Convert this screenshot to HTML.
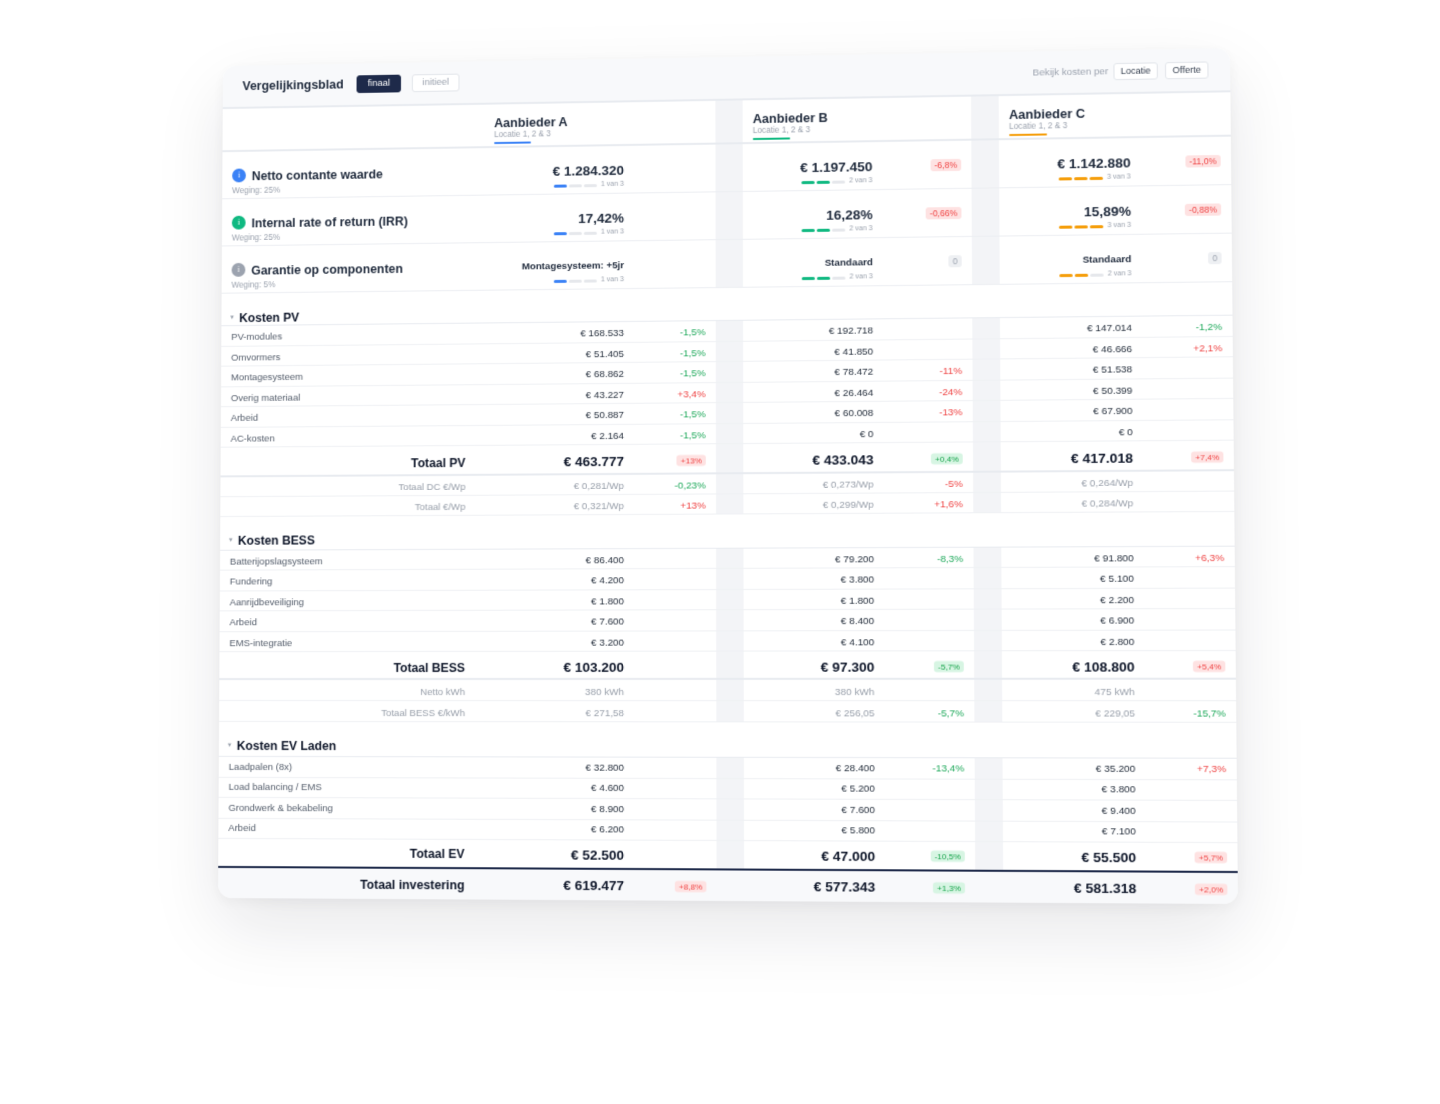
<!DOCTYPE html>
<html><head><meta charset="utf-8">
<style>
html,body{margin:0;padding:0;background:#fff;width:1440px;height:1104px;overflow:hidden;}
body{font-family:"Liberation Sans",Arial,sans-serif;color:#1e293b;}
#card{position:absolute;left:0;top:0;width:1000px;height:840px;background:#fff;border-radius:14px;overflow:hidden;
transform-origin:0 0;
transform:matrix3d(0.972622,-0.0193416,0,-0.00002795,-0.0092031,0.977085,0,-0.000014912,0,0,1,0,223,66,0,1);
box-shadow:0 28px 70px rgba(15,23,42,0.10),0 4px 16px rgba(15,23,42,0.05);}
.ab{position:absolute;white-space:nowrap;}
.hdr{position:absolute;left:0;top:0;width:1000px;height:44px;background:#f8f9fb;border-bottom:2px solid #e8ebf0;box-sizing:border-box;}
.strip{position:absolute;width:27px;background:#f3f4f7;}
.rw{position:absolute;left:0;width:1000px;box-sizing:border-box;border-bottom:1px solid #eff1f4;}
.rw .c{position:absolute;top:2px;white-space:nowrap;}
.rw.e .c{top:0.5px;}
.rw .bd{margin-top:1.5px;}
.rw.e .bd{margin-top:0.5px;}
.L{left:10px;}
.TL{right:753px;}
.VA{right:595px;}.PA{right:514px;}
.VB{right:349px;}.PB{right:262px;}
.VC{right:97px;}.PC{right:10px;}
.it{font-size:9.6px;color:#555e6c;}
.iv{font-size:9.8px;color:#1f2937;}
.ip{font-size:9.8px;}
.g{color:#1fa95b;}.r{color:#ef4444;}
.sl{font-size:9.6px;color:#99a0ab;}
.sv{font-size:9.8px;color:#99a0ab;}
.tl{font-size:12.2px;font-weight:bold;color:#0f172a;}
.tv{font-size:13.5px;font-weight:bold;color:#0f172a;}
.bd{position:absolute;top:50%;transform:translateY(-50%);font-size:8px;line-height:11px;padding:0 4px;border-radius:3px;white-space:nowrap;}
.rd{background:#fee2e2;color:#ef4444;}
.gn{background:#d7f5e3;color:#16a34a;}
.gy{background:#eef0f3;color:#9ca3af;}
.sec{position:absolute;left:0;width:1000px;box-sizing:border-box;border-bottom:1px solid #e8ebf0;background:#fff;}
.sec .t{position:absolute;left:18px;font-size:12.2px;font-weight:bold;color:#0f172a;white-space:nowrap;line-height:16px;}
.sec .cr{position:absolute;left:9px;font-size:7px;color:#9ca3af;line-height:16px;}
.btn{position:absolute;top:12px;height:18px;box-sizing:border-box;border-radius:3px;font-size:9.5px;line-height:16px;text-align:center;}
.ic{position:absolute;left:10px;width:14px;height:14px;border-radius:50%;color:#fff;font-size:8px;line-height:14px;text-align:center;font-family:"Liberation Serif",serif;}
.mt{position:absolute;left:30px;font-size:12.4px;font-weight:bold;color:#1e293b;line-height:16px;white-space:nowrap;}
.wg{position:absolute;left:10px;font-size:8.3px;color:#9ca3af;line-height:10px;white-space:nowrap;}
.mv{position:absolute;font-size:13.5px;font-weight:bold;color:#1e293b;line-height:16px;white-space:nowrap;}
.ms{position:absolute;font-size:9.7px;font-weight:bold;color:#1e293b;line-height:16px;white-space:nowrap;}
.bars{position:absolute;display:flex;align-items:center;height:10px;}
.bars i{display:block;width:12.5px;height:3px;border-radius:2px;background:#e6e8ec;margin-right:2.5px;}
.bars i.A{background:#3b82f6;}.bars i.B{background:#10b981;}.bars i.C{background:#f59e0b;}
.bars span{font-size:7px;color:#9ca3af;margin-left:2px;line-height:10px;}
.mb{position:absolute;font-size:8.5px;line-height:12px;padding:0 4px;border-radius:3px;white-space:nowrap;}
.ch{position:absolute;font-size:12.6px;font-weight:bold;color:#1e293b;line-height:16px;white-space:nowrap;}
.cs{position:absolute;font-size:8.2px;color:#9ca3af;line-height:10px;white-space:nowrap;}
.ul{position:absolute;height:2px;width:37px;border-radius:1px;}
</style></head><body>
<div id="card">
  <div class="hdr"></div>
  <div class="ab" style="left:20px;top:13px;font-size:12.5px;font-weight:bold;color:#1e293b;line-height:16px;">Vergelijkingsblad</div>
  <div class="btn" style="left:136px;width:45px;background:#1e2a4a;color:#fff;border:1px solid #1e2a4a;">finaal</div>
  <div class="btn" style="left:192px;width:48px;background:#fff;color:#9ca3af;border:1px solid #e2e5ea;">initieel</div>
  <div class="ab" style="right:118px;top:13.5px;font-size:9.7px;color:#9ca3af;line-height:16px;">Bekijk kosten per</div>
  <div class="btn" style="left:887px;width:43px;top:12.5px;height:17px;background:#fff;color:#374151;border:1px solid #e2e5ea;font-size:9px;line-height:15px;">Locatie</div>
  <div class="btn" style="left:937px;width:42px;top:12.5px;height:17px;background:#fff;color:#374151;border:1px solid #e2e5ea;font-size:9px;line-height:15px;">Offerte</div>

  <!-- strips -->
  <div class="strip" style="left:496px;top:44px;height:188px;"></div>
  <div class="strip" style="left:748px;top:44px;height:188px;"></div>
  <div class="strip" style="left:496px;top:265px;height:193px;"></div>
  <div class="strip" style="left:748px;top:265px;height:193px;"></div>
  <div class="strip" style="left:496px;top:492px;height:172px;"></div>
  <div class="strip" style="left:748px;top:492px;height:172px;"></div>
  <div class="strip" style="left:496px;top:699px;height:109px;"></div>
  <div class="strip" style="left:748px;top:699px;height:109px;"></div>

  <!-- column header row -->
  <div class="rw" style="top:44px;height:44px;border-bottom:2px solid #e8ebf0;"></div>
  <div class="ch" style="left:275px;top:54.5px;">Aanbieder A</div>
  <div class="cs" style="left:275px;top:70px;">Locatie 1, 2 &amp; 3</div>
  <div class="ul" style="left:275px;top:82px;background:#3b82f6;"></div>
  <div class="ch" style="left:533px;top:54.5px;">Aanbieder B</div>
  <div class="cs" style="left:533px;top:70px;">Locatie 1, 2 &amp; 3</div>
  <div class="ul" style="left:533px;top:82px;background:#10b981;"></div>
  <div class="ch" style="left:785px;top:54.5px;">Aanbieder C</div>
  <div class="cs" style="left:785px;top:70px;">Locatie 1, 2 &amp; 3</div>
  <div class="ul" style="left:785px;top:82px;background:#f59e0b;"></div>

  <!-- metric row 1 -->
  <div class="rw" style="top:88px;height:48px;border-bottom:1.5px solid #eceef2;"></div>
  <div class="ic" style="top:105px;background:#3b82f6;">i</div>
  <div class="mt" style="top:104.5px;">Netto contante waarde</div>
  <div class="wg" style="top:122px;">Weging: 25%</div>
  <div class="mv" style="right:595px;top:104.5px;">€ 1.284.320</div>
  <div class="bars" style="right:595px;top:122px;"><i class="A"></i><i></i><i></i><span>1 van 3</span></div>
  <div class="mv" style="right:349px;top:104.5px;">€ 1.197.450</div>
  <div class="bars" style="right:349px;top:122px;"><i class="B"></i><i class="B"></i><i></i><span>2 van 3</span></div>
  <div class="mb rd" style="right:262px;top:106px;">-6,8%</div>
  <div class="mv" style="right:97px;top:104.5px;">€ 1.142.880</div>
  <div class="bars" style="right:97px;top:122px;"><i class="C"></i><i class="C"></i><i class="C"></i><span>3 van 3</span></div>
  <div class="mb rd" style="right:10px;top:106px;">-11,0%</div>

  <!-- metric row 2 -->
  <div class="rw" style="top:136px;height:48px;border-bottom:1.5px solid #eceef2;"></div>
  <div class="ic" style="top:153px;background:#10b981;">i</div>
  <div class="mt" style="top:152.5px;">Internal rate of return (IRR)</div>
  <div class="wg" style="top:170px;">Weging: 25%</div>
  <div class="mv" style="right:595px;top:152.5px;">17,42%</div>
  <div class="bars" style="right:595px;top:170px;"><i class="A"></i><i></i><i></i><span>1 van 3</span></div>
  <div class="mv" style="right:349px;top:152.5px;">16,28%</div>
  <div class="bars" style="right:349px;top:170px;"><i class="B"></i><i class="B"></i><i></i><span>2 van 3</span></div>
  <div class="mb rd" style="right:262px;top:154px;">-0,66%</div>
  <div class="mv" style="right:97px;top:152.5px;">15,89%</div>
  <div class="bars" style="right:97px;top:170px;"><i class="C"></i><i class="C"></i><i class="C"></i><span>3 van 3</span></div>
  <div class="mb rd" style="right:10px;top:154px;">-0,88%</div>

  <!-- metric row 3 -->
  <div class="rw" style="top:184px;height:48px;border-bottom:1.5px solid #eceef2;"></div>
  <div class="ic" style="top:201px;background:#9ca3af;">i</div>
  <div class="mt" style="top:200.5px;">Garantie op componenten</div>
  <div class="wg" style="top:218px;">Weging: 5%</div>
  <div class="ms" style="right:595px;top:200.5px;">Montagesysteem: +5jr</div>
  <div class="bars" style="right:595px;top:218px;"><i class="A"></i><i></i><i></i><span>1 van 3</span></div>
  <div class="ms" style="right:349px;top:200.5px;">Standaard</div>
  <div class="bars" style="right:349px;top:218px;"><i class="B"></i><i class="B"></i><i></i><span>2 van 3</span></div>
  <div class="mb gy" style="right:262px;top:202px;">0</div>
  <div class="ms" style="right:97px;top:200.5px;">Standaard</div>
  <div class="bars" style="right:97px;top:218px;"><i class="C"></i><i class="C"></i><i></i><span>2 van 3</span></div>
  <div class="mb gy" style="right:10px;top:202px;">0</div>

  <!-- Kosten PV -->
  <div class="sec" style="top:232px;height:33px;"><span class="cr" style="top:16.5px;">▾</span><span class="t" style="top:16.5px;">Kosten PV</span></div>

  <div class="rw" style="top:265px;height:20.5px;line-height:20.5px;"><span class="c L it">PV-modules</span><span class="c VA iv">€ 168.533</span><span class="c PA ip g">-1,5%</span><span class="c VB iv">€ 192.718</span><span class="c VC iv">€ 147.014</span><span class="c PC ip g">-1,2%</span></div>
  <div class="rw" style="top:285.5px;height:20.5px;line-height:20.5px;"><span class="c L it">Omvormers</span><span class="c VA iv">€ 51.405</span><span class="c PA ip g">-1,5%</span><span class="c VB iv">€ 41.850</span><span class="c VC iv">€ 46.666</span><span class="c PC ip r">+2,1%</span></div>
  <div class="rw" style="top:306px;height:20.5px;line-height:20.5px;"><span class="c L it">Montagesysteem</span><span class="c VA iv">€ 68.862</span><span class="c PA ip g">-1,5%</span><span class="c VB iv">€ 78.472</span><span class="c PB ip r">-11%</span><span class="c VC iv">€ 51.538</span></div>
  <div class="rw" style="top:326.5px;height:20.5px;line-height:20.5px;"><span class="c L it">Overig materiaal</span><span class="c VA iv">€ 43.227</span><span class="c PA ip r">+3,4%</span><span class="c VB iv">€ 26.464</span><span class="c PB ip r">-24%</span><span class="c VC iv">€ 50.399</span></div>
  <div class="rw" style="top:347px;height:20.5px;line-height:20.5px;"><span class="c L it">Arbeid</span><span class="c VA iv">€ 50.887</span><span class="c PA ip g">-1,5%</span><span class="c VB iv">€ 60.008</span><span class="c PB ip r">-13%</span><span class="c VC iv">€ 67.900</span></div>
  <div class="rw" style="top:367.5px;height:20.5px;line-height:20.5px;"><span class="c L it">AC-kosten</span><span class="c VA iv">€ 2.164</span><span class="c PA ip g">-1,5%</span><span class="c VB iv">€ 0</span><span class="c VC iv">€ 0</span></div>
  <div class="rw" style="top:388px;height:30px;line-height:30px;border-bottom:2px solid #e8ebf0;"><span class="c TL tl">Totaal PV</span><span class="c VA tv">€ 463.777</span><span class="bd rd" style="right:514px;">+13%</span><span class="c VB tv">€ 433.043</span><span class="bd gn" style="right:262px;">+0,4%</span><span class="c VC tv">€ 417.018</span><span class="bd rd" style="right:10px;">+7,4%</span></div>
  <div class="rw" style="top:418px;height:20px;line-height:20px;"><span class="c TL sl">Totaal DC €/Wp</span><span class="c VA sv">€ 0,281/Wp</span><span class="c PA ip g">-0,23%</span><span class="c VB sv">€ 0,273/Wp</span><span class="c PB ip r">-5%</span><span class="c VC sv">€ 0,264/Wp</span></div>
  <div class="rw" style="top:438px;height:20px;line-height:20px;"><span class="c TL sl">Totaal €/Wp</span><span class="c VA sv">€ 0,321/Wp</span><span class="c PA ip r">+13%</span><span class="c VB sv">€ 0,299/Wp</span><span class="c PB ip r">+1,6%</span><span class="c VC sv">€ 0,284/Wp</span></div>

  <!-- Kosten BESS -->
  <div class="sec" style="top:458px;height:34px;"><span class="cr" style="top:15.5px;">▾</span><span class="t" style="top:15.5px;">Kosten BESS</span></div>

  <div class="rw" style="top:492px;height:20.4px;line-height:20.4px;"><span class="c L it">Batterijopslagsysteem</span><span class="c VA iv">€ 86.400</span><span class="c VB iv">€ 79.200</span><span class="c PB ip g">-8,3%</span><span class="c VC iv">€ 91.800</span><span class="c PC ip r">+6,3%</span></div>
  <div class="rw" style="top:512.4px;height:20.4px;line-height:20.4px;"><span class="c L it">Fundering</span><span class="c VA iv">€ 4.200</span><span class="c VB iv">€ 3.800</span><span class="c VC iv">€ 5.100</span></div>
  <div class="rw" style="top:532.8px;height:20.4px;line-height:20.4px;"><span class="c L it">Aanrijdbeveiliging</span><span class="c VA iv">€ 1.800</span><span class="c VB iv">€ 1.800</span><span class="c VC iv">€ 2.200</span></div>
  <div class="rw" style="top:553.2px;height:20.4px;line-height:20.4px;"><span class="c L it">Arbeid</span><span class="c VA iv">€ 7.600</span><span class="c VB iv">€ 8.400</span><span class="c VC iv">€ 6.900</span></div>
  <div class="rw" style="top:573.6px;height:20.4px;line-height:20.4px;"><span class="c L it">EMS-integratie</span><span class="c VA iv">€ 3.200</span><span class="c VB iv">€ 4.100</span><span class="c VC iv">€ 2.800</span></div>
  <div class="rw" style="top:594px;height:28px;line-height:28px;border-bottom:2px solid #e8ebf0;"><span class="c TL tl">Totaal BESS</span><span class="c VA tv">€ 103.200</span><span class="c VB tv">€ 97.300</span><span class="bd gn" style="right:262px;">-5,7%</span><span class="c VC tv">€ 108.800</span><span class="bd rd" style="right:10px;">+5,4%</span></div>
  <div class="rw" style="top:622px;height:21px;line-height:21px;"><span class="c TL sl">Netto kWh</span><span class="c VA sv">380 kWh</span><span class="c VB sv">380 kWh</span><span class="c VC sv">475 kWh</span></div>
  <div class="rw" style="top:643px;height:21px;line-height:21px;"><span class="c TL sl">Totaal BESS €/kWh</span><span class="c VA sv">€ 271,58</span><span class="c VB sv">€ 256,05</span><span class="c PB ip g">-5,7%</span><span class="c VC sv">€ 229,05</span><span class="c PC ip g">-15,7%</span></div>

  <!-- Kosten EV Laden -->
  <div class="sec" style="top:664px;height:35px;"><span class="cr" style="top:15.5px;">▾</span><span class="t" style="top:15.5px;">Kosten EV Laden</span></div>

  <div class="rw e" style="top:699px;height:20.5px;line-height:20.5px;"><span class="c L it">Laadpalen (8x)</span><span class="c VA iv">€ 32.800</span><span class="c VB iv">€ 28.400</span><span class="c PB ip g">-13,4%</span><span class="c VC iv">€ 35.200</span><span class="c PC ip r">+7,3%</span></div>
  <div class="rw e" style="top:719.5px;height:20.5px;line-height:20.5px;"><span class="c L it">Load balancing / EMS</span><span class="c VA iv">€ 4.600</span><span class="c VB iv">€ 5.200</span><span class="c VC iv">€ 3.800</span></div>
  <div class="rw e" style="top:740px;height:20.5px;line-height:20.5px;"><span class="c L it">Grondwerk &amp; bekabeling</span><span class="c VA iv">€ 8.900</span><span class="c VB iv">€ 7.600</span><span class="c VC iv">€ 9.400</span></div>
  <div class="rw e" style="top:760.5px;height:20.5px;line-height:20.5px;"><span class="c L it">Arbeid</span><span class="c VA iv">€ 6.200</span><span class="c VB iv">€ 5.800</span><span class="c VC iv">€ 7.100</span></div>
  <div class="rw e" style="top:781px;height:27px;line-height:27px;border-bottom:none;"><span class="c TL tl">Totaal EV</span><span class="c VA tv">€ 52.500</span><span class="c VB tv">€ 47.000</span><span class="bd gn" style="right:262px;">-10,5%</span><span class="c VC tv">€ 55.500</span><span class="bd rd" style="right:10px;">+5,7%</span></div>

  <div class="ab" style="left:0;top:808px;width:1000px;height:2px;background:#1e2a4a;"></div>
  <div class="rw e" style="top:810px;height:30px;line-height:30px;background:#f8f9fb;border-bottom:none;"><span class="c TL tl" style="font-size:12.3px;">Totaal investering</span><span class="c VA tv">€ 619.477</span><span class="bd rd" style="right:514px;">+8,8%</span><span class="c VB tv">€ 577.343</span><span class="bd gn" style="right:262px;">+1,3%</span><span class="c VC tv">€ 581.318</span><span class="bd rd" style="right:10px;">+2,0%</span></div>
</div>
</body></html>
